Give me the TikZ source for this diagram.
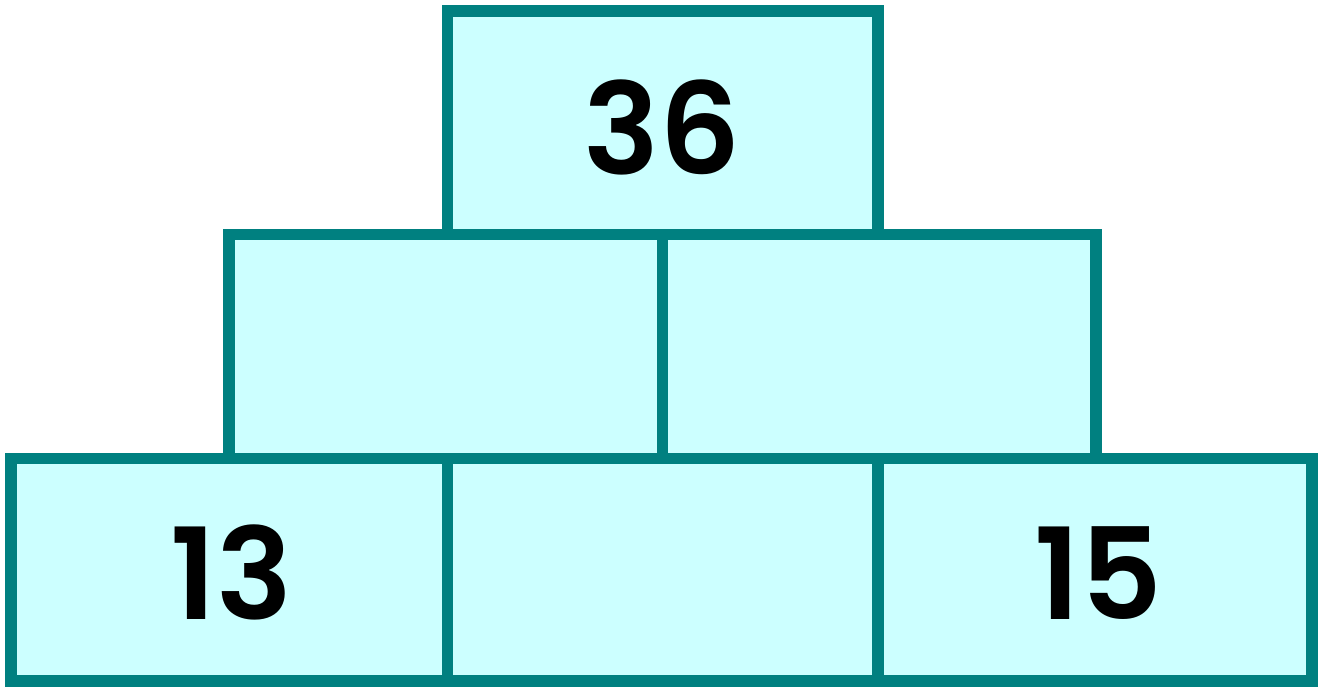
\documentclass[tikz,border=0pt]{standalone}
\usepackage{fontspec}
\setmainfont{Poppins}
\newfontfamily\numfont{Poppins}[UprightFont=* SemiBold]
\definecolor{brickline}{HTML}{008080}
\definecolor{brickfill}{HTML}{CCFFFF}
\tikzset{
  brick/.style={draw=brickline, fill=brickfill, line width=11.5pt, inner sep=0pt, line join=miter},
  num/.style={anchor=base, inner sep=0pt, font=\numfont\fontsize{127}{127}\selectfont, text=black}
}
\begin{document}
\begin{tikzpicture}[x=1pt,y=-1pt]
\useasboundingbox (0,0) rectangle (1323,686);
% bottom row
\node[brick, minimum width=436.5pt, minimum height=222.5pt] (b1) at (229.25,569.75) {};
\node[brick, minimum width=430.5pt, minimum height=222.5pt] (b2) at (662.75,569.75) {};
\node[brick, minimum width=434pt, minimum height=222.5pt] (b3) at (1095,569.75) {};
% middle row
\node[brick, minimum width=433.5pt, minimum height=224pt] (m1) at (445.75,346.5) {};
\node[brick, minimum width=433.5pt, minimum height=224pt] (m2) at (879.25,346.5) {};
% top
\node[brick, minimum width=430.5pt, minimum height=223.5pt] (t) at (662.75,122.75) {};
% numbers
\node[num] (n36) at (662,174) {36};
\node[num] (n13) at (232,619.5) {13};
\node[num] (n15) at (1098,619.5) {15};
\end{tikzpicture}
\end{document}
